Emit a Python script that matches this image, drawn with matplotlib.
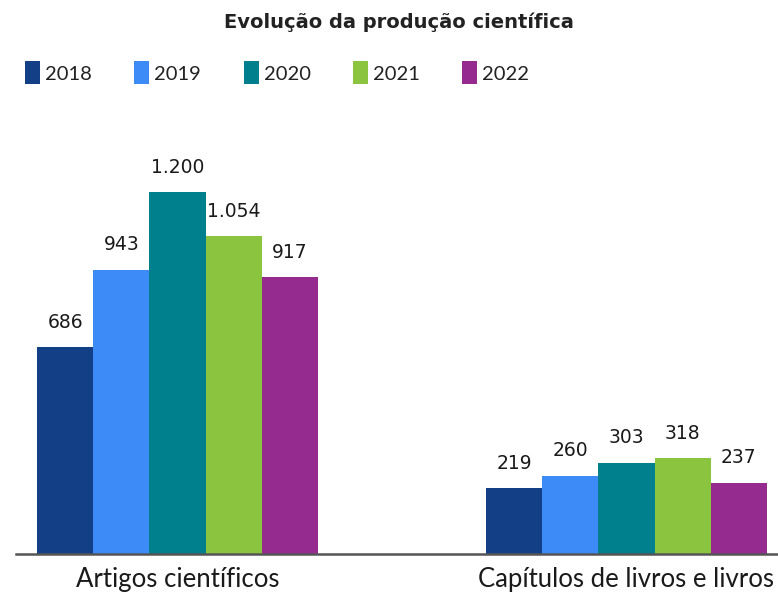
import matplotlib
matplotlib.use("Agg")
import matplotlib.pyplot as plt
import matplotlib.patches as mpatches
import numpy as np

title = "Evolução da produção científica"
categories = ["Artigos científicos", "Capítulos de livros e livros"]
years = ["2018", "2019", "2020", "2021", "2022"]
values = {
    "2018": [686, 219],
    "2019": [943, 260],
    "2020": [1200, 303],
    "2021": [1054, 318],
    "2022": [917, 237],
}
colors = ["#133F87", "#3D8BF7", "#00808C", "#8BC53F", "#952B8E"]

plt.rcParams["font.family"] = ["Lato", "DejaVu Sans"]

W, H = 778, 595
fig = plt.figure(figsize=(W / 100, H / 100), dpi=100)

ax_left, ax_right, ax_base, ax_top = 16, 778, 554, 130
ax = fig.add_axes([ax_left / W, (H - ax_base) / H, (ax_right - ax_left) / W, (ax_base - ax_top) / H])

px_per_unit = 362 / 1200.0
ax.set_ylim(0, (ax_base - ax_top) / px_per_unit)
group_px = 449.0
c0 = 177.5
ax.set_xlim((ax_left - c0) / group_px, (ax_right - c0) / group_px)

x = np.arange(len(categories))
bw = 56.2 / group_px
for i, (yr, col) in enumerate(zip(years, colors)):
    xs = x + (i - 2) * bw
    vals = values[yr]
    ax.bar(xs, vals, width=bw, color=col, linewidth=0)
    for xi, v in zip(xs, vals):
        ax.annotate(f"{v:,}".replace(",", "."), (xi, v), xytext=(0, 11), textcoords="offset points",
                    ha="center", va="bottom", fontsize=13.5, color="#1a1a1a",
                    family="DejaVu Sans")

for s in ["top", "right", "left"]:
    ax.spines[s].set_visible(False)
ax.spines["bottom"].set_color("#555555")
ax.spines["bottom"].set_linewidth(1.8)
ax.set_yticks([])
ax.set_xticks(x)
ax.set_xticklabels(categories, fontsize=18.5, color="#1a1a1a")
ax.tick_params(axis="x", length=0, pad=9)

fig.text(399 / W, 1 - 22 / H, title, ha="center", va="center", fontsize=14,
         fontweight="bold", color="#222222", family="DejaVu Sans")

# legend
lx0, ldx = 25, 109.3
for i, (yr, col) in enumerate(zip(years, colors)):
    lx = lx0 + i * ldx
    fig.patches.append(mpatches.Rectangle((lx / W, 1 - 84 / H), 15 / W, 23 / H,
                                          transform=fig.transFigure, color=col, linewidth=0))
    fig.text((lx + 20) / W, 1 - 75 / H, yr, ha="left", va="center", fontsize=14.5, color="#222222")

fig.savefig("out.png", dpi=100)
